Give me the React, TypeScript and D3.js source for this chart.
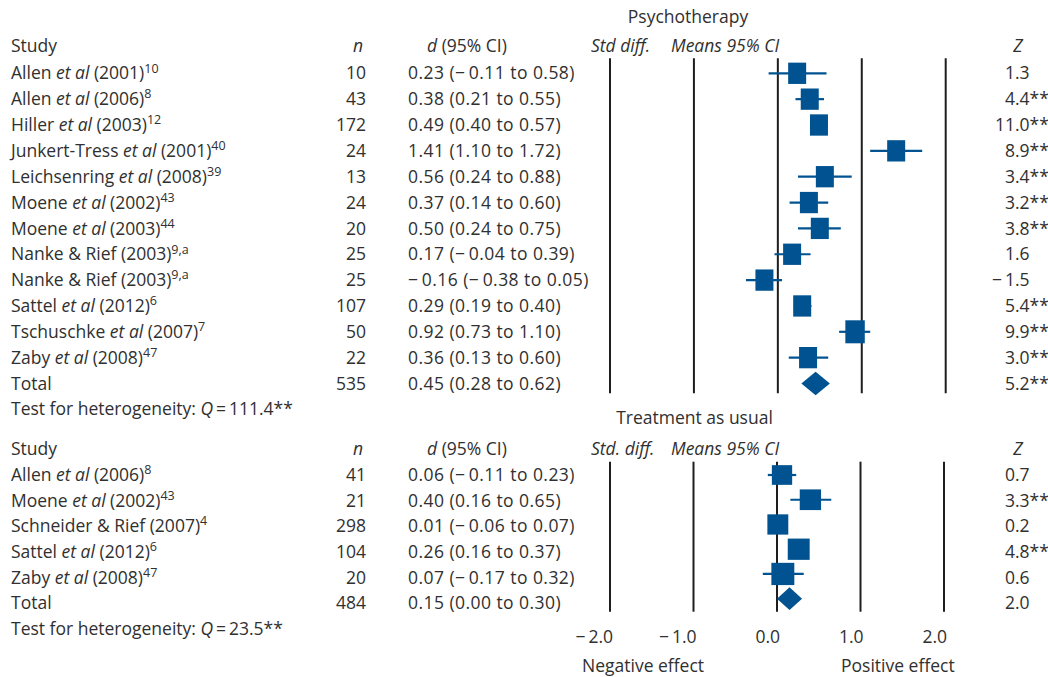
import React from "react";
import * as d3 from "d3";

// ---------- Data ----------
const psyAuthors = ["Allen", "Allen", "Hiller", "Junkert-Tress", "Leichsenring", "Moene", "Moene", "Nanke & Rief", "Nanke & Rief", "Sattel", "Tschuschke", "Zaby"];
const psyEtAl = [true, true, true, true, true, true, true, false, false, true, true, true];
const psyYears = ["2001", "2006", "2003", "2001", "2008", "2002", "2003", "2003", "2003", "2012", "2007", "2008"];
const psyRefs = ["10", "8", "12", "40", "39", "43", "44", "9,a", "9,a", "6", "7", "47"];
const psyN = [10, 43, 172, 24, 13, 24, 20, 25, 25, 107, 50, 22];
const psyD = [0.23, 0.38, 0.49, 1.41, 0.56, 0.37, 0.5, 0.17, -0.16, 0.29, 0.92, 0.36];
const psyLo = [-0.11, 0.21, 0.4, 1.1, 0.24, 0.14, 0.24, -0.04, -0.38, 0.19, 0.73, 0.13];
const psyHi = [0.58, 0.55, 0.57, 1.72, 0.88, 0.6, 0.75, 0.39, 0.05, 0.4, 1.1, 0.6];
const psyZ = ["1.3", "4.4**", "11.0**", "8.9**", "3.4**", "3.2**", "3.8**", "1.6", "-1.5", "5.4**", "9.9**", "3.0**"];
const psyWeight = [1, 1, 1, 1, 1, 1, 1, 1, 1, 1, 1.08, 1];
const psyTotal = { n: 535, d: 0.45, lo: 0.28, hi: 0.62, z: "5.2**", q: "111.4**" };

const tauAuthors = ["Allen", "Moene", "Schneider & Rief", "Sattel", "Zaby"];
const tauEtAl = [true, true, false, true, true];
const tauYears = ["2006", "2002", "2007", "2012", "2008"];
const tauRefs = ["8", "43", "4", "6", "47"];
const tauN = [41, 21, 298, 104, 20];
const tauD = [0.06, 0.4, 0.01, 0.26, 0.07];
const tauLo = [-0.11, 0.16, -0.06, 0.16, -0.17];
const tauHi = [0.23, 0.65, 0.07, 0.37, 0.32];
const tauZ = ["0.7", "3.3**", "0.2", "4.8**", "0.6"];
const tauWeight = [1, 1.05, 1.03, 1.08, 1.13];
const tauTotal = { n: 484, d: 0.15, lo: 0.0, hi: 0.3, z: "2.0", q: "23.5**" };

const axisTicks = [-2, -1, 0, 1, 2];

// ---------- Style ----------
const FONT = "'Open Sans', 'DejaVu Sans', sans-serif";
const FS = 17.5;
const BLUE = "#005390";
const INK = "#1e1e1e";
const TXT = "#303030";

const minus = (s: string) => s.replace(/[-\u2212]/g, "\u2212\u2009");
const f2 = (v: number) => minus(d3.format(".2f")(v));
const f1 = (v: number) => minus(d3.format(".1f")(v));
const ciText = (d: number, lo: number, hi: number) => `${f2(d)} (${f2(lo)} to ${f2(hi)})`;

type PanelProps = {
  title: string;
  titleX: number;
  titleY: number;
  headerY: number;
  stdLabel: string;
  authors: string[];
  etal: boolean[];
  years: string[];
  refs: string[];
  n: number[];
  d: number[];
  lo: number[];
  hi: number[];
  z: string[];
  weight: number[];
  total: { n: number; d: number; lo: number; hi: number; z: string; q: string };
  x: d3.ScaleLinear<number, number>;
  yText: d3.ScaleLinear<number, number>;
  yMark: d3.ScaleLinear<number, number>;
  lineTop: number;
  lineBottom: number;
  boxW: number;
  boxH: number;
  diamondH: number;
  showAxis: boolean;
};

const COL = { study: 11, nRight: 366, nHead: 353, d: 408, dHead: 427, std: 591, means: 671, zDec: 1015, zHead: 1018 };
const NUM_SPACING = 0.45;

function ZLabel({ s, y }: { s: string; y: number }) {
  const i = s.indexOf(".");
  const intPart = minus(s.slice(0, i));
  const rest = s.slice(i);
  return (
    <g>
      <text x={COL.zDec} y={y} dy="0.35em" textAnchor="end">{intPart}</text>
      <text x={COL.zDec} y={y} dy="0.35em">{rest}</text>
    </g>
  );
}

function Panel(p: PanelProps) {
  const rows = p.authors.map((a, i) => i);
  const tIdx = p.authors.length;
  const sizeW = d3.scaleLinear().domain([0, 1]).range([0, p.boxW]);
  const sizeH = d3.scaleLinear().domain([0, 1]).range([0, p.boxH]);
  return (
    <g>
      <text x={p.titleX} y={p.titleY} dy="0.35em" textAnchor="middle">{p.title}</text>
      {/* headers */}
      <text x={COL.study} y={p.headerY} dy="0.35em">Study</text>
      <text x={COL.nHead} y={p.headerY} dy="0.35em" fontStyle="italic">n</text>
      <text x={COL.dHead} y={p.headerY} dy="0.35em"><tspan fontStyle="italic">d</tspan> (95% CI)</text>
      <text x={COL.std} y={p.headerY} dy="0.35em" fontStyle="italic">{p.stdLabel}</text>
      <text x={COL.means} y={p.headerY} dy="0.35em" fontStyle="italic">Means 95% CI</text>
      <text x={COL.zHead} y={p.headerY} dy="0.35em" fontStyle="italic" textAnchor="middle">Z</text>
      {/* vertical reference lines */}
      {axisTicks.map((t) => (
        <line key={t} x1={p.x(t)} x2={p.x(t)} y1={p.lineTop} y2={p.lineBottom} stroke={INK} strokeWidth={2} />
      ))}
      {/* rows */}
      {rows.map((i) => {
        const y = p.yText(i);
        const ym = p.yMark(i);
        const w = sizeW(p.weight[i]);
        const h = sizeH(p.weight[i]);
        return (
          <g key={i}>
            <text x={COL.study} y={y} dy="0.35em">
              {p.authors[i]}
              {p.etal[i] ? <>{" "}<tspan fontStyle="italic">et al</tspan></> : null}
              {` (${p.years[i]})`}
              <tspan dy="-0.55em" fontSize={12.5}>{p.refs[i]}</tspan>
            </text>
            <text x={COL.nRight} y={y} dy="0.35em" textAnchor="end">{p.n[i]}</text>
            <text x={COL.d} y={y} dy="0.35em" letterSpacing={NUM_SPACING}>{ciText(p.d[i], p.lo[i], p.hi[i])}</text>
            <ZLabel s={p.z[i]} y={y} />
            <line x1={p.x(p.lo[i])} x2={p.x(p.hi[i])} y1={ym} y2={ym} stroke={BLUE} strokeWidth={2.2} />
            <rect x={p.x(p.d[i]) - w / 2} y={ym - h / 2} width={w} height={h} fill={BLUE} />
          </g>
        );
      })}
      {/* total */}
      <text x={COL.study} y={p.yText(tIdx)} dy="0.35em">Total</text>
      <text x={COL.nRight} y={p.yText(tIdx)} dy="0.35em" textAnchor="end">{p.total.n}</text>
      <text x={COL.d} y={p.yText(tIdx)} dy="0.35em" letterSpacing={NUM_SPACING}>{ciText(p.total.d, p.total.lo, p.total.hi)}</text>
      <ZLabel s={p.total.z} y={p.yText(tIdx)} />
      <path
        d={`M${p.x(p.total.lo)},${p.yMark(tIdx)}L${p.x(p.total.d)},${p.yMark(tIdx) - p.diamondH / 2}L${p.x(p.total.hi)},${p.yMark(tIdx)}L${p.x(p.total.d)},${p.yMark(tIdx) + p.diamondH / 2}Z`}
        fill={BLUE}
      />
      <text x={COL.study} y={p.yText(tIdx + 1)} dy="0.35em">
        Test for heterogeneity: <tspan fontStyle="italic">Q</tspan>{"\u2009=\u2009"}{p.total.q}
      </text>
      {p.showAxis && (
        <g>
          {axisTicks.map((t) => (
            <text key={t} x={p.x(t) + 3} y={636.5} dy="0.35em" textAnchor="end">{f1(t)}</text>
          ))}
          <text x={582} y={666} dy="0.35em">Negative effect</text>
          <text x={841} y={666} dy="0.35em">Positive effect</text>
        </g>
      )}
    </g>
  );
}

export default function App() {
  const xTop = d3.scaleLinear().domain([-2, 2]).range([610, 945.7]);
  const xBot = d3.scaleLinear().domain([-2, 2]).range([610, 944]);
  const yTop = d3.scaleLinear().domain([0, 12]).range([73.3, 383.5]);
  const yBotText = d3.scaleLinear().domain([0, 5]).range([475, 603]);
  const yBotMark = d3.scaleLinear().domain([0, 5]).range([475, 598.7]);
  return (
    <svg
      width={1048}
      height={677}
      viewBox="0 0 1048 677"
      style={{ position: "absolute", left: 0, top: 0, background: "#fff" }}
      fontFamily={FONT}
      fontSize={FS}
      fill={TXT}
    >
      <Panel
        title="Psychotherapy" titleX={688} titleY={17.3} headerY={46} stdLabel="Std diff."
        authors={psyAuthors} etal={psyEtAl} years={psyYears} refs={psyRefs}
        n={psyN} d={psyD} lo={psyLo} hi={psyHi} z={psyZ} weight={psyWeight} total={psyTotal}
        x={xTop} yText={yTop} yMark={yTop} lineTop={58.3} lineBottom={393.3}
        boxW={18} boxH={21.3} diamondH={23.4} showAxis={false}
      />
      <Panel
        title="Treatment as usual" titleX={694.5} titleY={418.3} headerY={448.5} stdLabel="Std. diff."
        authors={tauAuthors} etal={tauEtAl} years={tauYears} refs={tauRefs}
        n={tauN} d={tauD} lo={tauLo} hi={tauHi} z={tauZ} weight={tauWeight} total={tauTotal}
        x={xBot} yText={yBotText} yMark={yBotMark} lineTop={461.7} lineBottom={611.7}
        boxW={20.3} boxH={19.7} diamondH={22.7} showAxis={true}
      />
    </svg>
  );
}
